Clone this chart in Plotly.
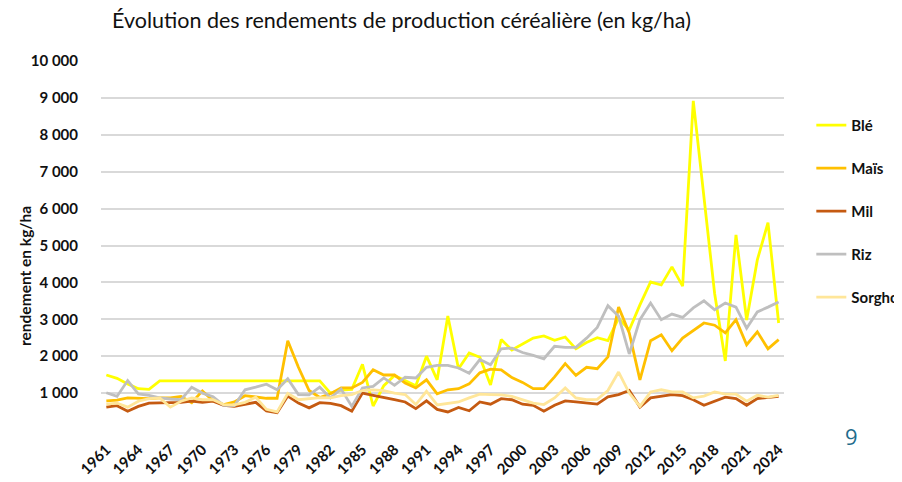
import plotly.graph_objects as go

years = [str(y) for y in range(1961, 2025)]

ble = [1490, 1400, 1250, 1120, 1100, 1330, 1330, 1330, 1330, 1330,
       1330, 1330, 1330, 1330, 1330, 1330, 1330, 1330, 1330, 1330,
       1330, 1000, 1080, 1100, 1780, 650, 1200, 1480, 1340, 1200,
       2000, 1360, 3090, 1660, 2090, 1970, 1220, 2450, 2170, 2330,
       2490, 2550, 2430, 2520, 2200, 2370, 2500, 2420, 3030, 2710,
       3390, 4010, 3930, 4420, 3900, 8920, 6300, 3700, 1870, 5290,
       2980, 4610, 5620, 2900]

mais = [790, 810, 870, 850, 850, 870, 870, 910, 740, 1060,
        790, 690, 760, 930, 900, 860, 860, 2420, 1700, 1070,
        880, 980, 1140, 1140, 1290, 1630, 1490, 1490, 1270, 1140,
        1360, 980, 1090, 1120, 1250, 1550, 1650, 1630, 1420, 1290,
        1120, 1120, 1440, 1800, 1480, 1700, 1660, 1980, 3330, 2630,
        1360, 2420, 2580, 2150, 2490, 2690, 2900, 2840, 2630, 2990,
        2310, 2660, 2200, 2450]

mil = [620, 660, 510, 640, 730, 730, 740, 750, 780, 750,
       780, 670, 640, 690, 750, 520, 470, 920, 730, 600,
       740, 720, 660, 510, 1000, 940, 870, 820, 760, 580,
       790, 560, 490, 610, 520, 760, 700, 850, 820, 700,
       670, 510, 670, 790, 760, 730, 700, 900, 960, 1070,
       620, 870, 910, 960, 930, 820, 670, 790, 890, 850,
       670, 850, 870, 910]

riz = [1010, 910, 1340, 980, 940, 870, 840, 820, 1160, 1000,
       900, 670, 660, 1090, 1160, 1240, 1090, 1390, 960, 950,
       1160, 870, 1110, 640, 1140, 1180, 1410, 1210, 1430, 1410,
       1700, 1750, 1750, 1680, 1540, 1910, 1770, 2200, 2220, 2100,
       2020, 1930, 2270, 2240, 2240, 2490, 2780, 3370, 3080, 2060,
       2990, 3440, 2990, 3140, 3050, 3310, 3500, 3260, 3440, 3330,
       2760, 3200, 3330, 3470]

sorgho = [700, 730, 620, 780, 850, 870, 620, 780, 870, 820,
          820, 690, 680, 750, 890, 560, 490, 990, 820, 840,
          880, 870, 930, 960, 1070, 1090, 1070, 1000, 960, 690,
          1050, 680, 730, 760, 870, 970, 960, 950, 910, 820,
          730, 690, 870, 1140, 870, 820, 830, 1070, 1570, 1000,
          640, 1030, 1090, 1030, 1030, 870, 920, 1030, 970, 970,
          780, 940, 890, 940]

series_names = ["Blé", "Maïs", "Mil", "Riz", "Sorgho"]
series_values = [ble, mais, mil, riz, sorgho]
series_colors = ["#FFFF00", "#FFC000", "#C55A11", "#BFBFBF", "#FFE699"]

y_ticks = list(range(0, 10001, 1000))
y_ticktext = [""] + [f"{v:,}".replace(",", " ") for v in y_ticks[1:]]
x_ticks = years[::3]

FONT = "Lato"
TXT = "#111111"

fig = go.Figure()
for name, vals, col in zip(series_names, series_values, series_colors):
    fig.add_trace(go.Scatter(
        x=years, y=vals, name=name, mode="lines",
        line=dict(color=col, width=2.8),
        legendgroup=name,
    ))

fig.update_layout(
    width=902, height=482,
    margin=dict(l=93, r=126, t=53, b=60, autoexpand=False),
    paper_bgcolor="white", plot_bgcolor="white",
    font=dict(family=FONT, color=TXT, size=15),
    title=dict(
        text="Évolution des rendements de production céréalière (en kg/ha)",
        x=104 / 902, xanchor="left", xref="container",
        y=1 - 12 / 482, yanchor="middle", yref="container",
        pad=dict(l=0, r=0, t=0, b=0),
        font=dict(family=FONT, size=21.5, color=TXT),
    ),
    xaxis=dict(
        type="category", tickmode="array", tickvals=x_ticks, ticktext=x_ticks,
        tickangle=-45, showgrid=False, showline=False, zeroline=False,
        ticks="", range=[-0.5, len(years) - 0.5], ticklabelstandoff=7,
        automargin=False,
        tickfont=dict(family=FONT, size=15, color=TXT, weight="bold"),
    ),
    yaxis=dict(
        range=[0, 10000], tickmode="array", tickvals=y_ticks, ticktext=y_ticktext,
        showgrid=True, gridcolor="#D9D9D9", gridwidth=1.5,
        zeroline=False, showline=False, ticks="", ticklabelstandoff=22,
        automargin=False,
        tickfont=dict(family=FONT, size=15, color=TXT, weight="bold"),
    ),
    legend=dict(
        x=1.04, xanchor="left", y=0.87, yanchor="top",
        font=dict(family=FONT, size=15, color=TXT, weight="bold"),
        tracegroupgap=20.5, bgcolor="rgba(0,0,0,0)",
    ),
    annotations=[
        dict(text="rendement en kg/ha", textangle=-90, xref="paper", yref="paper",
             x=(17 - 93) / 683, y=(422 - 268) / 369, showarrow=False,
             xanchor="center", yanchor="middle",
             font=dict(family=FONT, size=15.5, color=TXT, weight="bold")),
        dict(text="9", xref="paper", yref="paper",
             x=(843 - 93) / 683, y=(422 - 428) / 369, showarrow=False,
             xanchor="center", yanchor="middle",
             font=dict(family="Open Sans", size=22, color="#1F6C8C")),
    ],
)

fig.write_html("out.html")
